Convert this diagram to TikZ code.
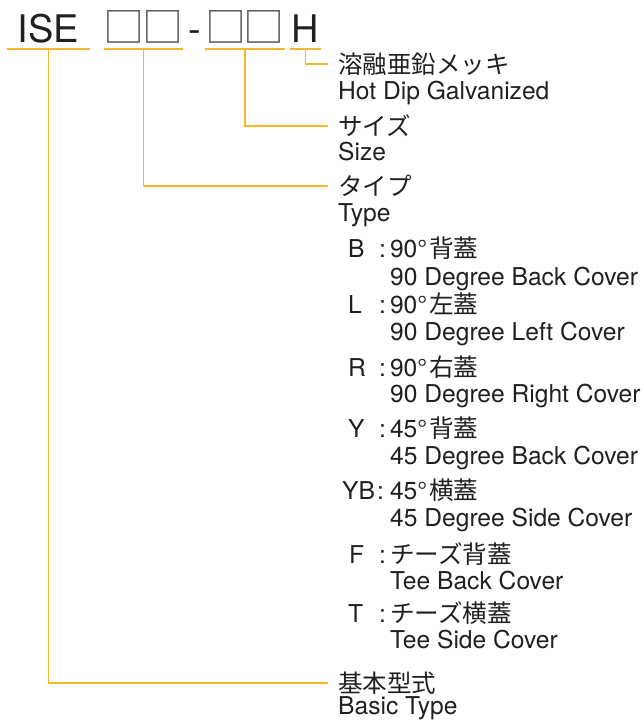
\documentclass[tikz,border=0pt]{standalone}
\usepackage{fontspec}
\setmainfont{TeX Gyre Heros}
\newfontfamily\jpfont{Noto Sans CJK JP}
\usetikzlibrary{positioning}
\definecolor{lineor}{RGB}{248,182,45}
\definecolor{txt}{RGB}{35,31,32}
\definecolor{boxgray}{RGB}{90,88,88}

\begin{document}
\begin{tikzpicture}[x=1pt,y=-1pt,
  code/.style={anchor=south, inner xsep=0pt, inner ysep=6pt, text depth=0pt,
    font=\fontsize{38}{38}\selectfont, text=txt},
  sq/.style={code, font=\jpfont\fontsize{41}{41}\selectfont, text=boxgray},
  ul/.style={draw=lineor, line width=1.4pt},
  jp/.style={anchor=west, inner xsep=10pt, inner ysep=0pt,
    font=\jpfont\fontsize{24.5}{24.5}\selectfont, text=txt},
  en/.style={anchor=base west, inner xsep=10pt, inner ysep=0pt,
    font=\fontsize{24.6}{24.6}\selectfont, text=txt},
  key/.style={anchor=base west, inner sep=0pt,
    font=\fontsize{24.6}{24.6}\selectfont, text=txt},
  val/.style={key}]
\useasboundingbox (0,0) rectangle (643,720);
% model code
\node[code, minimum width=83pt] (ise) at (48.5,49) {ISE};
\node[sq, minimum width=68pt] (sqa) at (143.5,49) {□\hspace{-2.5pt}□};
\node[code] (dash) at (194.5,49) {-};
\node[sq, minimum width=68pt] (sqb) at (245,49) {□\hspace{-2.5pt}□};
\node[code, minimum width=30pt] (hh) at (305.5,49) {H};
\foreach \n in {ise,sqa,sqb,hh}
  \draw[ul] (\n.south west) -- (\n.south east);
% labels
\node[jp] (galv) at (328,64) {溶融亜鉛メッキ};
\node[en] (galven) at (328,99) {Hot Dip Galvanized};
\node[jp] (size) at (328,126) {サイズ};
\node[en] (sizeen) at (328,160) {Size};
\node[jp] (type) at (328,186) {タイプ};
\node[en] (typeen) at (328,221) {Type};
\node[jp] (basic) at (328,683) {基本型式};
\node[en] (basicen) at (328,714) {Basic Type};
% type options
\node[key] (kb) at (348,257) {B};
\node[val] (vb) at (379,257) {:\hspace{4pt}90°\hspace{2pt}{\jpfont 背蓋}};
\node[val] (eb) at (390,285) {90 Degree Back Cover};
\node[key] (kl) at (348,313) {L};
\node[val] (vl) at (379,313) {:\hspace{4pt}90°\hspace{2pt}{\jpfont 左蓋}};
\node[val] (el) at (390,340) {90 Degree Left Cover};
\node[key] (kr) at (348,376) {R};
\node[val] (vr) at (379,376) {:\hspace{4pt}90°\hspace{2pt}{\jpfont 右蓋}};
\node[val] (er) at (390,402) {90 Degree Right Cover};
\node[key] (ky) at (348,437) {Y};
\node[val] (vy) at (379,437) {:\hspace{4pt}45°\hspace{2pt}{\jpfont 背蓋}};
\node[val] (ey) at (390,464) {45 Degree Back Cover};
\node[key] (kyb) at (342,499) {YB};
\node[val] (vyb) at (377,499) {:\hspace{6pt}45°\hspace{2pt}{\jpfont 横蓋}};
\node[val] (eyb) at (390,526) {45 Degree Side Cover};
\node[key] (kf) at (349,563) {F};
\node[val] (vf) at (379,563) {:\hspace{4pt}{\jpfont チーズ背蓋}};
\node[val] (ef) at (390,589) {Tee Back Cover};
\node[key] (kt) at (348,622) {T};
\node[val] (vt) at (379,622) {:\hspace{4pt}{\jpfont チーズ横蓋}};
\node[val] (et) at (390,648) {Tee Side Cover};
% connectors
\draw[ul] (hh.south) |- (galv.west);
\draw[ul] (sqb.south) |- (size.west);
\draw[ul] (sqa.south) |- (type.west);
\draw[ul] (ise.south) |- (basic.west);
\end{tikzpicture}
\end{document}
